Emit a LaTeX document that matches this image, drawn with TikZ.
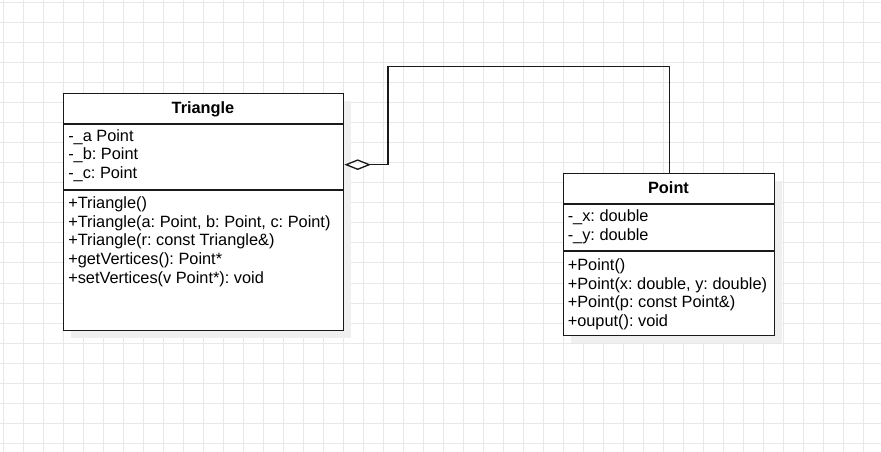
\documentclass[tikz,border=0pt]{standalone}
\usepackage{fontspec}
\setmainfont{Liberation Sans}
\usetikzlibrary{arrows.meta}
\definecolor{gridc}{HTML}{E8E8E8}
\definecolor{shadowc}{HTML}{EFEFEF}
\definecolor{linec}{HTML}{1A1A1A}
\tikzset{
  classbox/.style={draw=linec, line width=1pt, fill=white, inner sep=0pt, anchor=north west},
  shadowbox/.style={fill=shadowc, draw=none, inner sep=0pt, anchor=north west},
  member/.style={anchor=base west, inner sep=0pt, font=\fontsize{12.25}{14}\selectfont\frenchspacing, text=black},
  title/.style={anchor=base, inner sep=0pt, font=\fontsize{12.25}{14}\selectfont\bfseries, text=black},
  sepline/.style={draw=linec, line width=1pt},
  aggr/.style={draw=linec, line width=1pt, {Diamond[open, length=20pt, width=8pt]}-}
}
\begin{document}
\frenchspacing
\begin{tikzpicture}[x=0.75pt, y=-0.75pt]
\useasboundingbox (0,0) rectangle (881,452);
\fill[white] (0,0) rectangle (881,452);
% grid
\foreach \gx in {3,23,...,863} \draw[gridc, line width=0.75pt] (\gx,0) -- (\gx,452);
\foreach \gy in {3,23,...,443} \draw[gridc, line width=0.75pt] (0,\gy) -- (881,\gy);
% shadows
\node[shadowbox, minimum width=210pt, minimum height=177.75pt] (trishadow) at (71,101) {};
\node[shadowbox, minimum width=158.25pt, minimum height=121.5pt] (ptshadow) at (571,181) {};
% Triangle class
\node[classbox, minimum width=210pt, minimum height=177.75pt] (tri) at (63,93) {};
\draw[sepline] (63,124) -- (343,124);
\draw[sepline] (63,190) -- (343,190);
\node[title] (tritit) at (203,114) {Triangle};
\node[member] (ta1) at (68,141.5) {-\_a Point};
\node[member] (ta2) at (68,160) {-\_b: Point};
\node[member] (ta3) at (68,178.5) {-\_c: Point};
\node[member] (tm1) at (68,209) {+Triangle()};
\node[member] (tm2) at (68,227.5) {+Triangle(a: Point, b: Point, c: Point)};
\node[member] (tm3) at (68,246) {+Triangle(r: const Triangle\&)};
\node[member] (tm4) at (68,264.5) {+getVertices(): Point*};
\node[member] (tm5) at (68,283) {+setVertices(v Point*): void};
% Point class
\node[classbox, minimum width=158.25pt, minimum height=121.5pt] (pt) at (563,173) {};
\draw[sepline] (563,204) -- (774,204);
\draw[sepline] (563,251) -- (774,251);
\node[title] (pttit) at (668.5,193.5) {Point};
\node[member] (pa1) at (567.5,222) {-\_x: double};
\node[member] (pa2) at (567.5,241) {-\_y: double};
\node[member] (pm1) at (567.5,270.5) {+Point()};
\node[member] (pm2) at (567.5,289) {+Point(x: double, y: double)};
\node[member] (pm3) at (567.5,307.5) {+Point(p: const Point\&)};
\node[member] (pm4) at (567.5,326) {+ouput(): void};
% aggregation connector
\coordinate (bend) at (388,66.7);
\draw[aggr] ([yshift=35.625pt]tri.east) -| (bend) -| (pt.north);
\end{tikzpicture}
\end{document}
